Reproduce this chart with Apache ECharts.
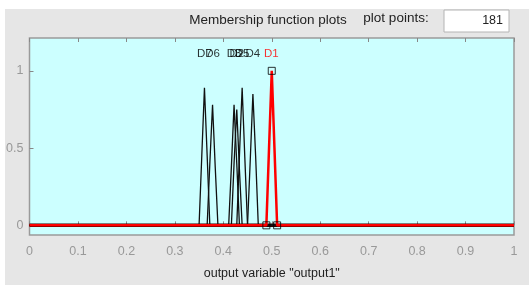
<!DOCTYPE html>
<html>
<head>
<meta charset="utf-8">
<script src="https://cdn.jsdelivr.net/npm/echarts@6/dist/echarts.min.js"></script>
<style>
html,body{margin:0;padding:0;background:#fff;}
#c{width:529px;height:285px;}
</style>
</head>
<body>
<div id="c"></div>
<script>
// ---- data ----
const mfNames = ['D7', 'D6', 'D3', 'D2', 'D5', 'D4', 'D1'];
const mfLabelX = [0.3611, 0.3778, 0.4222, 0.4278, 0.4389, 0.4611, 0.4990];
const labelY = 1.11;
const D7x = [0, 0.3500, 0.3556, 0.3611, 0.3667, 0.3722, 1];
const D7y = [0, 0, 0.45, 0.89, 0.45, 0, 0];
const D6x = [0, 0.3667, 0.3722, 0.3778, 0.3833, 0.3889, 1];
const D6y = [0, 0, 0.40, 0.78, 0.38, 0, 0];
const D3x = [0, 0.4111, 0.4167, 0.4222, 0.4278, 0.4333, 1];
const D3y = [0, 0, 0.38, 0.78, 0.40, 0, 0];
const D2x = [0, 0.4167, 0.4222, 0.4278, 0.4333, 0.4389, 1];
const D2y = [0, 0, 0.40, 0.75, 0.36, 0, 0];
const D5x = [0, 0.4278, 0.4333, 0.4389, 0.4444, 0.4500, 1];
const D5y = [0, 0, 0.45, 0.89, 0.44, 0, 0];
const D4x = [0, 0.4500, 0.4556, 0.4611, 0.4667, 0.4722, 1];
const D4y = [0, 0, 0.42, 0.85, 0.45, 0, 0];
const D1x = [0, 0.4889, 0.4944, 0.5000, 0.5056, 0.5111, 1];
const D1y = [0, 0, 0.50, 1.00, 0.50, 0, 0];
const D1vertX = [0.4889, 0.5000, 0.5111];
const D1vertY = [0, 1, 0];
const baseX = [0, 1];
const baseY = [0, 0];
const yTickValues = [0, 0.5, 1];
const xTickLabels = ['0', '0.1', '0.2', '0.3', '0.4', '0.5', '0.6', '0.7', '0.8', '0.9', '1'];
const plotPoints = '181';

// ---- build ----
const zip = (xs, ys) => xs.map((x, i) => [x, ys[i]]);
const blackSets = [[D7x, D7y], [D6x, D6y], [D3x, D3y], [D2x, D2y], [D5x, D5y], [D4x, D4y]];
const series = [];
series.push({
  type: 'line', name: 'base', data: zip(baseX, baseY), symbol: 'none',
  lineStyle: { color: '#2a0000', width: 3.5 }, z: 1, silent: true
});
blackSets.forEach((s, i) => {
  series.push({
    type: 'line', name: mfNames[i], data: zip(s[0], s[1]),
    symbol: 'none', lineStyle: { color: '#111', width: 1.3 }, z: 2, silent: true
  });
});
series.push({
  type: 'line', name: 'D1', data: zip(D1x, D1y), symbol: 'none',
  lineStyle: { color: '#ff0000', width: 2.5 }, z: 3, silent: true
});
series.push({
  type: 'scatter', data: zip(D1vertX, D1vertY), symbol: 'rect', symbolSize: 7,
  itemStyle: { color: 'rgba(0,0,0,0)', borderColor: '#000', borderWidth: 1 }, z: 4, silent: true
});
series.push({
  type: 'scatter', symbolSize: 0, z: 5, silent: true,
  data: mfNames.map((n, i) => ({
    value: [mfLabelX[i], labelY],
    label: { show: true, position: 'inside', formatter: n,
      color: n === 'D1' ? '#ff0000' : '#000', fontSize: 11.5, fontFamily: 'Liberation Sans' }
  }))
});

const chart = echarts.init(document.getElementById('c'), null, { renderer: 'canvas' });
chart.setOption({
  animation: false,
  backgroundColor: '#fff',
  graphic: [
    { type: 'rect', shape: { x: 5, y: 9, width: 524, height: 276 }, style: { fill: '#e6e6e6' }, z: -10 },
    { type: 'text', x: 268, y: 20, style: { text: 'Membership function plots', fontSize: 13.5,
      fontFamily: 'Liberation Sans', fill: '#222', align: 'center', verticalAlign: 'middle' } },
    { type: 'text', x: 396, y: 18, style: { text: 'plot points:', fontSize: 13.5,
      fontFamily: 'Liberation Sans', fill: '#222', align: 'center', verticalAlign: 'middle' } },
    { type: 'rect', shape: { x: 444, y: 10, width: 65, height: 22 },
      style: { fill: '#fff', stroke: '#b4b4b4', lineWidth: 1 } },
    { type: 'text', x: 503, y: 21, style: { text: plotPoints, fontSize: 12.5,
      fontFamily: 'Liberation Sans', fill: '#222', align: 'right', verticalAlign: 'middle' } }
  ],
  grid: { left: 29.5, right: 15, top: 38, bottom: 43, show: true,
    backgroundColor: '#ccffff', borderColor: '#9a9a9a', borderWidth: 1.5 },
  xAxis: [{
    type: 'value', min: 0, max: 1, interval: 0.1,
    name: 'output variable "output1"', nameLocation: 'middle', nameGap: 32,
    nameTextStyle: { color: '#222', fontSize: 12.5, fontFamily: 'Liberation Sans' },
    axisLine: { show: false },
    axisTick: { show: true, inside: true, length: 4, lineStyle: { color: '#888' } },
    axisLabel: { color: '#999', fontSize: 12.5, fontFamily: 'Liberation Sans', margin: 10,
      formatter: (v) => xTickLabels[Math.round(v * 10)] },
    splitLine: { show: false }
  }, {
    type: 'value', min: 0, max: 1, interval: 0.1, position: 'top',
    axisLine: { show: false },
    axisTick: { show: true, inside: true, length: 4, lineStyle: { color: '#888' } },
    axisLabel: { show: false }, splitLine: { show: false }
  }],
  yAxis: {
    type: 'value', min: -0.0625, max: 1.2125,
    axisLine: { show: false },
    axisTick: { show: true, inside: true, length: 4, customValues: yTickValues, lineStyle: { color: '#888' } },
    axisLabel: { color: '#999', fontSize: 12.5, fontFamily: 'Liberation Sans', margin: 6,
      customValues: yTickValues, formatter: (v) => String(v) },
    splitLine: { show: false }
  },
  series: series
});
</script>
</body>
</html>
